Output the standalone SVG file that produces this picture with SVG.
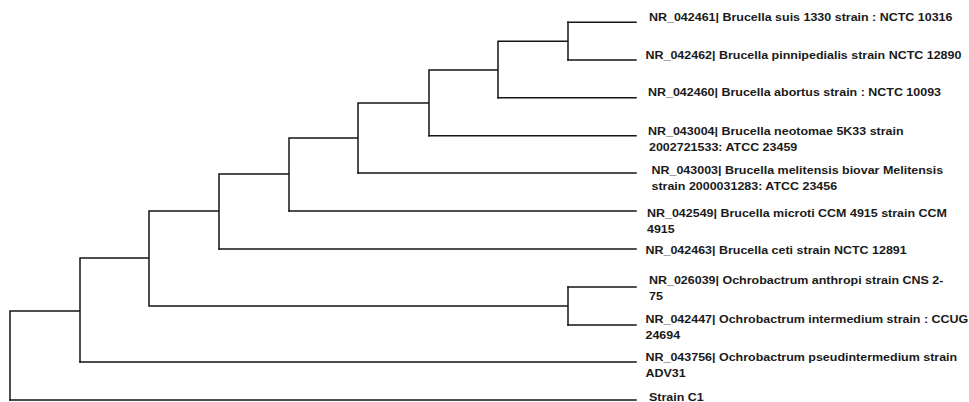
<svg xmlns="http://www.w3.org/2000/svg" width="969" height="402" viewBox="0 0 969 402">
<style>
.br{fill:none;stroke:#151515;stroke-width:1.5;stroke-linecap:square}
.lb{font-family:"Liberation Sans",Arial,sans-serif;font-weight:bold;font-size:11.5px;fill:#1a1a1a}
</style>
<rect width="969" height="402" fill="#fff"/>
<g id="connectors">
<path class="br" d="M10,311V400M10,311H80M80,258V362M80,258H149M149,211V306M149,211H219M219,174V249M219,174H289M289,138V211M289,138H358M358,103V173M358,103H429M429,70V135.7M429,70H498M498,41.3V97.7M498,41.3H568M568,22.3V60M149,306H568M568,287V325"/>
<path class="br" d="M568,22.3H636M568,60H636M498,97.7H636M429,135.7H636M358,173H636M289,211H636M219,249H636M568,287H636M568,325H636M80,362H636M10,400H636"/>
</g>
<g id="n-suis"><text class="lb" transform="translate(649,21) scale(1.085,1)">NR_042461| Brucella suis 1330 strain : NCTC 10316</text></g>
<g id="n-pinnipedialis"><text class="lb" transform="translate(645.5,59) scale(1.085,1)">NR_042462| Brucella pinnipedialis strain NCTC 12890</text></g>
<g id="n-abortus"><text class="lb" transform="translate(648,96) scale(1.085,1)">NR_042460| Brucella abortus strain : NCTC 10093</text></g>
<g id="n-neotomae"><text class="lb" transform="translate(648,135) scale(1.085,1)">NR_043004| Brucella neotomae 5K33 strain</text><text class="lb" transform="translate(649,151) scale(1.085,1)">2002721533: ATCC 23459</text></g>
<g id="n-melitensis"><text class="lb" transform="translate(651.5,174) scale(1.085,1)">NR_043003| Brucella melitensis biovar Melitensis</text><text class="lb" transform="translate(651.5,190) scale(1.085,1)">strain 2000031283: ATCC 23456</text></g>
<g id="n-microti"><text class="lb" transform="translate(647,217) scale(1.085,1)">NR_042549| Brucella microti CCM 4915 strain CCM</text><text class="lb" transform="translate(647,233) scale(1.085,1)">4915</text></g>
<g id="n-ceti"><text class="lb" transform="translate(645.5,254) scale(1.085,1)">NR_042463| Brucella ceti strain NCTC 12891</text></g>
<g id="n-anthropi"><text class="lb" transform="translate(649,284) scale(1.085,1)">NR_026039| Ochrobactrum anthropi strain CNS 2-</text><text class="lb" transform="translate(649,300) scale(1.085,1)">75</text></g>
<g id="n-intermedium"><text class="lb" transform="translate(645.5,323) scale(1.085,1)">NR_042447| Ochrobactrum intermedium strain : CCUG</text><text class="lb" transform="translate(645.5,339) scale(1.085,1)">24694</text></g>
<g id="n-pseudintermedium"><text class="lb" transform="translate(645.5,361) scale(1.085,1)">NR_043756| Ochrobactrum pseudintermedium strain</text><text class="lb" transform="translate(645.5,377) scale(1.085,1)">ADV31</text></g>
<g id="n-strainc1"><text class="lb" transform="translate(649,401) scale(1.085,1)">Strain C1</text></g>
</svg>
